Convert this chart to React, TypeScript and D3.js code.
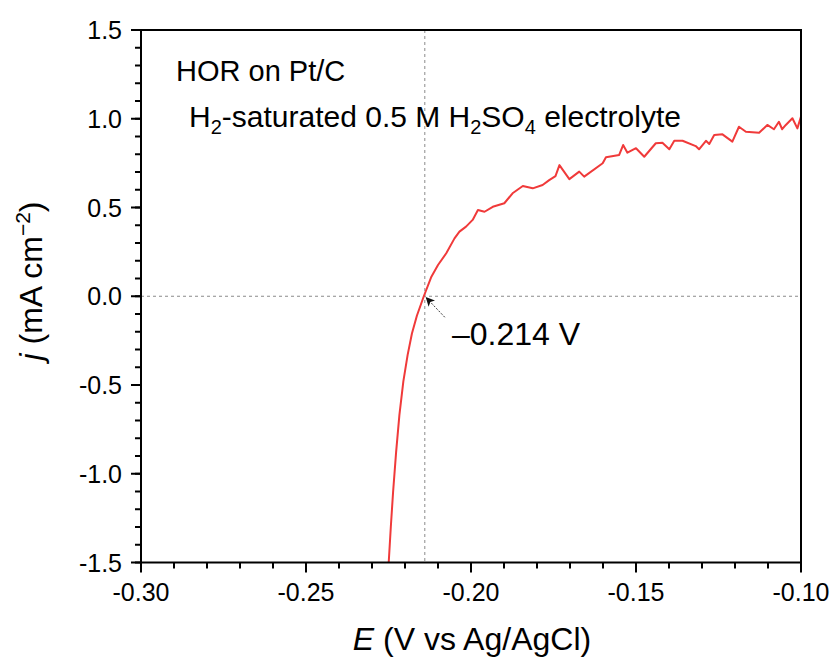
import React from "react";
import * as d3 from "d3";

const potentialE = [
  -0.2250, -0.2243, -0.2236, -0.2227, -0.2217, -0.2205, -0.2192, -0.2179, -0.2164, -0.2143,
  -0.2120, -0.2100, -0.2075, -0.2050, -0.2035, -0.2015, -0.1995, -0.1979, -0.1959,
  -0.1934, -0.1899, -0.1874, -0.1843, -0.1813, -0.1783, -0.1763, -0.1744, -0.1732,
  -0.1702, -0.1672, -0.1657, -0.1601, -0.1591, -0.1551, -0.1539, -0.1526, -0.1500,
  -0.1475, -0.1440, -0.1420, -0.1399, -0.1384, -0.1359, -0.1319, -0.1309, -0.1288,
  -0.1278, -0.1263, -0.1238, -0.1208, -0.1188, -0.1167, -0.1127, -0.1102, -0.1082,
  -0.1067, -0.1057, -0.1046, -0.1026, -0.1011, -0.1000,
];
const currentJ = [
  -1.52, -1.30, -1.10, -0.88, -0.67, -0.48, -0.33, -0.21, -0.11, 0.0,
  0.110, 0.176, 0.242, 0.326, 0.364, 0.392, 0.430, 0.486, 0.476,
  0.504, 0.524, 0.580, 0.621, 0.608, 0.627, 0.654, 0.677, 0.739,
  0.660, 0.702, 0.674, 0.749, 0.783, 0.796, 0.852, 0.809, 0.834,
  0.786, 0.862, 0.865, 0.828, 0.876, 0.876, 0.846, 0.828, 0.876,
  0.858, 0.908, 0.912, 0.871, 0.955, 0.927, 0.921, 0.965, 0.941,
  0.983, 0.941, 0.965, 1.003, 0.946, 1.012,
];

const xTicks = [-0.30, -0.25, -0.20, -0.15, -0.10];
const xTickLabels = ["-0.30", "-0.25", "-0.20", "-0.15", "-0.10"];
const yTicks = [-1.5, -1.0, -0.5, 0.0, 0.5, 1.0, 1.5];
const yTickLabels = ["-1.5", "-1.0", "-0.5", "0.0", "0.5", "1.0", "1.5"];
const onsetE = -0.214;

const W = 837;
const H = 660;
const L = 141, R = 801, T = 30, B = 562.5;
const FONT = "'Liberation Sans', Arial, sans-serif";

export default function App() {
  const x = d3.scaleLinear().domain([-0.30, -0.10]).range([L, R]);
  const y = d3.scaleLinear().domain([-1.5, 1.5]).range([B, T]);
  const pts = potentialE.map((e, i) => [e, currentJ[i]] as [number, number]);
  const line = d3.line<[number, number]>().x(d => x(d[0])).y(d => y(d[1]));
  const xMinor = d3.range(-0.30, -0.0999, 0.01).map(v => Math.round(v * 1000) / 1000);
  const yMinor = d3.range(-1.5, 1.5001, 0.1).map(v => Math.round(v * 100) / 100);

  const ox = x(onsetE), oy = y(0);
  const ax0 = ox + 20, ay0 = oy + 21;

  return (
    <svg width={W} height={H} style={{ position: "absolute", left: 0, top: 0, background: "#fff" }} fontFamily={FONT}>
      <defs>
        <clipPath id="plotclip">
          <rect x={L} y={T} width={R - L} height={B - T} />
        </clipPath>
        <marker id="arrowhead" viewBox="0 0 10 10" refX="9" refY="5" markerWidth="9" markerHeight="9" markerUnits="userSpaceOnUse" orient="auto">
          <path d="M0,0 L10,5 L0,10 L2.5,5 Z" fill="#111" />
        </marker>
      </defs>
      <rect x={0} y={0} width={W} height={H} fill="#fff" />

      {/* guide lines */}
      <line x1={ox} x2={ox} y1={T} y2={B} stroke="#8a8a8a" strokeWidth={1} strokeDasharray="3,3" />
      <line x1={L} x2={R} y1={oy} y2={oy} stroke="#8a8a8a" strokeWidth={1} strokeDasharray="3,3" />

      {/* data */}
      <path d={line(pts) || ""} fill="none" stroke="#f03a3a" strokeWidth={2} clipPath="url(#plotclip)" strokeLinejoin="round" />

      {/* arrow */}
      <line x1={ax0} y1={ay0} x2={ox + 1.5} y2={oy + 1.5} stroke="#222" strokeWidth={0.9} strokeDasharray="2,1.5" markerEnd="url(#arrowhead)" />
      <text x={452} y={345} fontSize={32} fill="#000">–0.214 V</text>

      {/* annotations */}
      <text x={176} y={81} fontSize={29} fill="#000">HOR on Pt/C</text>
      <text x={189} y={127} fontSize={30} fill="#000">
        H<tspan dy={7} fontSize={20}>2</tspan><tspan dy={-7}>-saturated 0.5 M H</tspan><tspan dy={7} fontSize={20}>2</tspan><tspan dy={-7}>SO</tspan><tspan dy={7} fontSize={20}>4</tspan><tspan dy={-7}> electrolyte</tspan>
      </text>

      {/* frame */}
      <rect x={L} y={T} width={R - L} height={B - T} fill="none" stroke="#000" strokeWidth={2} />

      {/* x ticks */}
      {xMinor.map((v, i) => (
        <line key={"xm" + i} x1={x(v)} x2={x(v)} y1={B} y2={B + 6} stroke="#000" strokeWidth={2} />
      ))}
      {xTicks.map((v, i) => (
        <g key={"xt" + i}>
          <line x1={x(v)} x2={x(v)} y1={B} y2={B + 10} stroke="#000" strokeWidth={2} />
          <text x={x(v)} y={601} fontSize={25} textAnchor="middle" fill="#000">{xTickLabels[i]}</text>
        </g>
      ))}

      {/* y ticks */}
      {yMinor.map((v, i) => (
        <line key={"ym" + i} x1={L - 6} x2={L} y1={y(v)} y2={y(v)} stroke="#000" strokeWidth={2} />
      ))}
      {yTicks.map((v, i) => (
        <g key={"yt" + i}>
          <line x1={L - 10} x2={L} y1={y(v)} y2={y(v)} stroke="#000" strokeWidth={2} />
          <text x={122} y={y(v) + 9} fontSize={25} textAnchor="end" fill="#000">{yTickLabels[i]}</text>
        </g>
      ))}

      {/* axis titles */}
      <text x={472} y={650} fontSize={32} textAnchor="middle" fill="#000">
        <tspan fontStyle="italic">E</tspan> (V vs Ag/AgCl)
      </text>
      <text transform={`translate(42,281) rotate(-90)`} fontSize={32} textAnchor="middle" fill="#000">
        <tspan fontStyle="italic">j</tspan> (mA cm<tspan dy={-12} fontSize={21}>−2</tspan><tspan dy={12}>)</tspan>
      </text>
    </svg>
  );
}
